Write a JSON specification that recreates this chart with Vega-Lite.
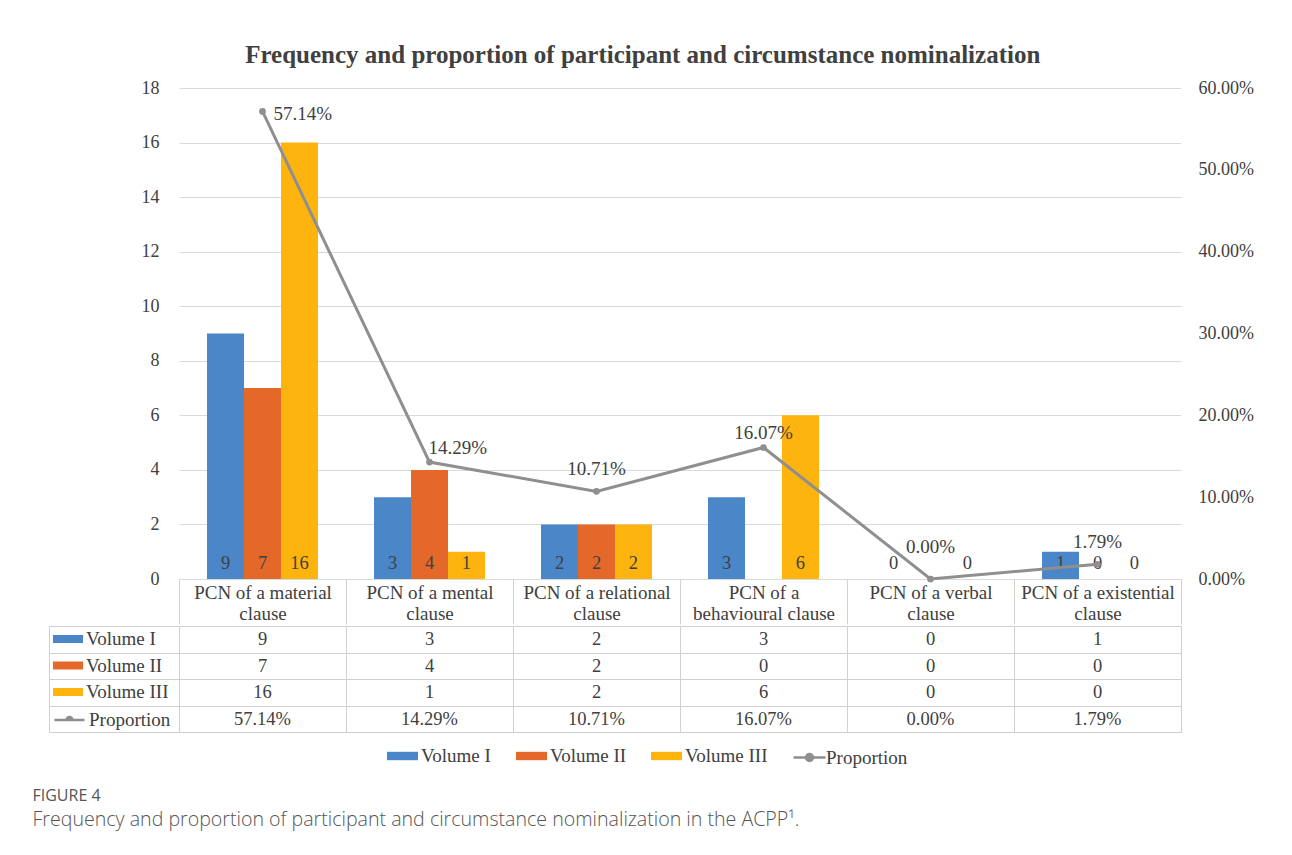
{
  "$schema": "https://vega.github.io/schema/vega-lite/v6.json",
  "padding": {"left": 32, "top": 43, "right": 5, "bottom": 5},
  "background": "white",
  "data": {"values": [
    {"category": "PCN of a material clause", "series": "Volume I", "value": 9},
    {"category": "PCN of a material clause", "series": "Volume II", "value": 7},
    {"category": "PCN of a material clause", "series": "Volume III", "value": 16},
    {"category": "PCN of a material clause", "series": "Proportion", "value": 0.5714},
    {"category": "PCN of a mental clause", "series": "Volume I", "value": 3},
    {"category": "PCN of a mental clause", "series": "Volume II", "value": 4},
    {"category": "PCN of a mental clause", "series": "Volume III", "value": 1},
    {"category": "PCN of a mental clause", "series": "Proportion", "value": 0.1429},
    {"category": "PCN of a relational clause", "series": "Volume I", "value": 2},
    {"category": "PCN of a relational clause", "series": "Volume II", "value": 2},
    {"category": "PCN of a relational clause", "series": "Volume III", "value": 2},
    {"category": "PCN of a relational clause", "series": "Proportion", "value": 0.1071},
    {"category": "PCN of a behavioural clause", "series": "Volume I", "value": 3},
    {"category": "PCN of a behavioural clause", "series": "Volume II", "value": 0},
    {"category": "PCN of a behavioural clause", "series": "Volume III", "value": 6},
    {"category": "PCN of a behavioural clause", "series": "Proportion", "value": 0.1607},
    {"category": "PCN of a verbal clause", "series": "Volume I", "value": 0},
    {"category": "PCN of a verbal clause", "series": "Volume II", "value": 0},
    {"category": "PCN of a verbal clause", "series": "Volume III", "value": 0},
    {"category": "PCN of a verbal clause", "series": "Proportion", "value": 0.0},
    {"category": "PCN of a existential clause", "series": "Volume I", "value": 1},
    {"category": "PCN of a existential clause", "series": "Volume II", "value": 0},
    {"category": "PCN of a existential clause", "series": "Volume III", "value": 0},
    {"category": "PCN of a existential clause", "series": "Proportion", "value": 0.0179}
  ]},
  "title": {
    "text": "Frequency and proportion of participant and circumstance nominalization",
    "font": "Liberation Serif", "fontSize": 25, "fontWeight": "bold", "color": "#404040",
    "anchor": "middle", "frame": "bounds", "offset": 11
  },
  "spacing": 0,
  "resolve": {"scale": {"color": "independent"}, "legend": {"color": "independent"}},
  "vconcat": [
    {
      "width": 1002, "height": 491,
      "view": {"stroke": null},
      "encoding": {
        "x": {
          "field": "category", "type": "nominal",
          "sort": ["PCN of a material clause", "PCN of a mental clause", "PCN of a relational clause", "PCN of a behavioural clause", "PCN of a verbal clause", "PCN of a existential clause"],
          "scale": {"paddingInner": 0, "paddingOuter": 0},
          "axis": {
            "title": null, "orient": "bottom", "domainColor": "#d9d9d9", "domainWidth": 1,
            "tickBand": "extent", "tickSize": 45, "tickColor": "#d0d0d0", "labelAngle": 0,
            "labelPadding": -41, "labelBaseline": "top", "labelLineHeight": 21, "labelLimit": 0, "labelFontSize": 19,
            "labelExpr": "datum.label ? (datum.label === 'PCN of a behavioural clause' ? ['PCN of a', 'behavioural clause'] : [replace(datum.label, ' clause', ''), 'clause']) : ''"
          }
        }
      },
      "layer": [
        {
          "layer": [
            {
              "transform": [{"filter": "datum.series !== 'Proportion'"}],
              "mark": {"type": "bar"},
              "encoding": {
                "xOffset": {"field": "series", "type": "nominal", "sort": ["Volume I", "Volume II", "Volume III"], "scale": {"paddingInner": 0, "paddingOuter": 0.757}},
                "y": {"field": "value", "type": "quantitative", "scale": {"domain": [0, 18]},
                  "axis": {"title": null, "values": [0, 2, 4, 6, 8, 10, 12, 14, 16, 18], "domain": false, "ticks": false, "grid": true, "gridColor": "#d9d9d9", "labelPadding": 20}},
                "color": {"field": "series", "type": "nominal",
                  "scale": {"domain": ["Volume I", "Volume II", "Volume III", "Proportion"], "range": ["#4a86c8", "#e4682a", "#fdb40f", "#8f8f8f"]},
                  "legend": null}
              }
            },
            {
              "transform": [{"filter": "datum.series !== 'Proportion' && !(datum.series === 'Volume II' && (datum.category === 'PCN of a behavioural clause' || datum.category === 'PCN of a verbal clause'))"}],
              "mark": {"type": "text", "baseline": "middle", "dy": -16, "fontSize": 18.5},
              "encoding": {
                "xOffset": {"field": "series", "type": "nominal", "sort": ["Volume I", "Volume II", "Volume III"]},
                "y": {"datum": 0, "type": "quantitative"},
                "text": {"field": "value", "type": "quantitative"}
              }
            }
          ]
        },
        {
          "transform": [{"filter": "datum.series === 'Proportion'"}],
          "encoding": {
            "y": {"field": "value", "type": "quantitative", "scale": {"domain": [0, 0.6]},
              "axis": {"title": null, "orient": "right", "values": [0, 0.1, 0.2, 0.3, 0.4, 0.5, 0.6], "format": ".2%", "domain": false, "ticks": false, "grid": false, "labelPadding": 17}}
          },
          "layer": [
            {"mark": {"type": "line", "color": "#8f8f8f", "strokeWidth": 3, "point": {"filled": true, "size": 45, "color": "#8f8f8f"}}, "encoding": {}},
            {"transform": [{"filter": "datum.category === 'PCN of a material clause'"}],
              "mark": {"type": "text", "align": "left", "baseline": "middle", "dx": 11, "dy": 3, "fontSize": 19},
              "encoding": {"text": {"field": "value", "type": "quantitative", "format": ".2%"}}},
            {"transform": [{"filter": "datum.category === 'PCN of a mental clause'"}],
              "mark": {"type": "text", "align": "left", "baseline": "middle", "dx": -1, "dy": -14, "fontSize": 19},
              "encoding": {"text": {"field": "value", "type": "quantitative", "format": ".2%"}}},
            {"transform": [{"filter": "datum.category === 'PCN of a behavioural clause'"}],
              "mark": {"type": "text", "align": "center", "baseline": "middle", "dy": -14, "fontSize": 19},
              "encoding": {"text": {"field": "value", "type": "quantitative", "format": ".2%"}}},
            {"transform": [{"filter": "datum.category === 'PCN of a relational clause' || datum.category === 'PCN of a existential clause'"}],
              "mark": {"type": "text", "align": "center", "baseline": "middle", "dy": -22, "fontSize": 19},
              "encoding": {"text": {"field": "value", "type": "quantitative", "format": ".2%"}}},
            {"transform": [{"filter": "datum.category === 'PCN of a verbal clause'"}],
              "mark": {"type": "text", "align": "center", "baseline": "middle", "dy": -32, "fontSize": 19},
              "encoding": {"text": {"field": "value", "type": "quantitative", "format": ".2%"}}}
          ]
        }
      ],
      "resolve": {"scale": {"y": "independent"}}
    },
    {
      "width": 1002, "height": 106,
      "view": {"stroke": "#d0d0d0"},
      "title": {
        "text": "FIGURE 4",
        "subtitle": "Frequency and proportion of participant and circumstance nominalization in the ACPP¹.",
        "orient": "bottom", "anchor": "start", "frame": "bounds", "offset": 20, "dx": -16,
        "font": "Open Sans", "fontSize": 16, "fontWeight": 500, "color": "#555555",
        "subtitleFont": "Open Sans", "subtitleFontSize": 19.6, "subtitleFontWeight": 300, "subtitleColor": "#555555", "subtitlePadding": 7
      },
      "encoding": {
        "x": {
          "field": "category", "type": "nominal",
          "sort": ["PCN of a material clause", "PCN of a mental clause", "PCN of a relational clause", "PCN of a behavioural clause", "PCN of a verbal clause", "PCN of a existential clause"],
          "scale": {"paddingInner": 0, "paddingOuter": 0},
          "axis": {"title": null, "orient": "top", "labels": false, "ticks": false, "domain": false, "grid": true, "gridColor": "#d0d0d0", "tickBand": "extent"}
        },
        "y": {
          "field": "series", "type": "nominal", "sort": ["Volume I", "Volume II", "Volume III", "Proportion"],
          "scale": {"paddingInner": 0, "paddingOuter": 0},
          "axis": {"title": null, "orient": "left", "labels": false, "offset": 130, "domain": true, "domainColor": "#d0d0d0",
            "ticks": true, "tickSize": -130, "tickColor": "#d0d0d0", "tickBand": "extent", "grid": true, "gridColor": "#d0d0d0"}
        }
      },
      "layer": [
        {"transform": [{"filter": "datum.series !== 'Proportion'"}],
          "mark": {"type": "text", "fontSize": 18.5},
          "encoding": {"text": {"field": "value", "type": "quantitative"}}},
        {"transform": [{"filter": "datum.series === 'Proportion'"}],
          "mark": {"type": "text", "fontSize": 18.5},
          "encoding": {"text": {"field": "value", "type": "quantitative", "format": ".2%"}}},
        {"transform": [{"filter": "false"}],
          "mark": {"type": "point", "filled": true},
          "encoding": {"color": {"field": "series", "type": "nominal",
            "scale": {"domain": ["Volume I", "Volume II", "Volume III"], "range": ["#4a86c8", "#e4682a", "#fdb40f"]},
            "legend": {"orient": "none", "legendX": -121, "legendY": 3, "direction": "vertical", "title": null, "padding": 0,
              "symbolSize": 400, "symbolType": "M-1.5,-0.4H1.5V0.4H-1.5Z", "symbolStrokeWidth": 0, "labelOffset": 8, "rowPadding": 6.5,
              "labelFont": "Liberation Serif", "labelFontSize": 19, "labelColor": "#404040", "symbolOpacity": 1}}}},
        {"transform": [{"filter": "false"}],
          "mark": {"type": "point", "filled": true},
          "encoding": {"color": {"field": "series", "type": "nominal",
            "scale": {"domain": ["Proportion"], "range": ["#8f8f8f"]},
            "legend": {"orient": "none", "legendX": -121, "legendY": 82.5, "direction": "vertical", "title": null, "padding": 0,
              "symbolSize": 400, "symbolType": "M-1.5,0H1.5M-0.3,0A0.3,0.3 0 0,1 0.3,0Z", "symbolStrokeColor": "#8f8f8f", "symbolStrokeWidth": 2.5, "labelOffset": 8,
              "labelFont": "Liberation Serif", "labelFontSize": 19, "labelColor": "#404040", "symbolOpacity": 1}}}},
        {"transform": [{"filter": "false"}],
          "mark": {"type": "point", "filled": true},
          "encoding": {"color": {"field": "series", "type": "nominal",
            "scale": {"domain": ["Volume I", "Volume II", "Volume III"], "range": ["#4a86c8", "#e4682a", "#fdb40f"]},
            "legend": {"orient": "none", "legendX": 213.5, "legendY": 120, "direction": "horizontal", "columns": 3, "title": null, "padding": 0,
              "symbolSize": 400, "symbolType": "M-1.55,-0.42H1.55V0.42H-1.55Z", "symbolStrokeWidth": 0, "labelOffset": 8.5, "columnPadding": 24,
              "labelFont": "Liberation Serif", "labelFontSize": 19, "labelColor": "#404040", "symbolOpacity": 1}}}},
        {"transform": [{"filter": "false"}],
          "mark": {"type": "point", "filled": true},
          "encoding": {"color": {"field": "series", "type": "nominal",
            "scale": {"domain": ["Proportion"], "range": ["#8f8f8f"]},
            "legend": {"orient": "none", "legendX": 619, "legendY": 120, "direction": "horizontal", "title": null, "padding": 0,
              "symbolSize": 400, "symbolType": "M-1.6,0H1.6M-0.35,0A0.35,0.35 0 1,1 0.35,0A0.35,0.35 0 1,1 -0.35,0Z", "symbolStrokeColor": "#8f8f8f", "symbolStrokeWidth": 2.5, "labelOffset": 5,
              "labelFont": "Liberation Serif", "labelFontSize": 19, "labelColor": "#404040", "symbolOpacity": 1}}}}
      ],
      "resolve": {"scale": {"color": "independent"}, "legend": {"color": "independent"}}
    }
  ],
  "config": {
    "font": "Liberation Serif",
    "axis": {"labelFont": "Liberation Serif", "labelFontSize": 18, "labelColor": "#404040"},
    "text": {"font": "Liberation Serif", "fontSize": 18, "color": "#404040"},
    "legend": {"labelFont": "Liberation Serif", "labelFontSize": 19, "labelColor": "#404040"}
  }
}
